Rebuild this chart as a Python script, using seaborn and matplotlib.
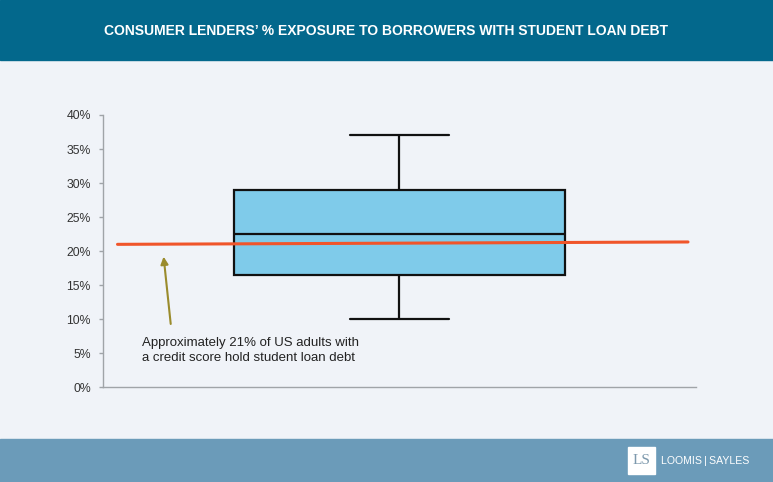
import numpy as np
import pandas as pd
import matplotlib
matplotlib.use('Agg')
import matplotlib.pyplot as plt
from matplotlib.patches import Rectangle
import seaborn as sns

# exposure values (%) giving the box stats: min, q1, median, q3, max
exposure = [10.0, 16.5, 22.5, 29.0, 37.0]
# reference line: ~21% of US adults with a credit score hold student loan debt
ref_x = [-0.476, 0.487]
ref_y = [21.0, 21.35]
y_ticks = [0, 5, 10, 15, 20, 25, 30, 35, 40]
y_labels = [f'{v}%' for v in y_ticks]

title = 'CONSUMER LENDERS\u2019 % EXPOSURE TO BORROWERS WITH STUDENT LOAN DEBT'
note = 'Approximately 21% of US adults with\na credit score hold student loan debt'

bg = '#f0f3f8'
header = '#03688c'
footer = '#6b9bb9'

sns.set_theme(style='white')
plt.rcParams['font.family'] = ['Liberation Sans', 'DejaVu Sans']

fig = plt.figure(figsize=(7.73, 4.82), dpi=100, facecolor=bg)
H = 482.0
W = 773.0

# header / footer bands
fig.patches.append(Rectangle((0, 1 - 60 / H), 1, 60 / H, transform=fig.transFigure,
                             color=header, zorder=0))
fig.patches.append(Rectangle((0, 0), 1, 43 / H, transform=fig.transFigure,
                             color=footer, zorder=0))
fig.text(0.499, 1 - 31 / H, title, color='white', fontsize=10, fontweight='bold',
         ha='center', va='center')

# logo
fig.patches.append(Rectangle((628 / W, 8 / H), 27 / W, 27 / H, transform=fig.transFigure,
                             color='white', zorder=1))
fig.text(641.5 / W, 21.5 / H, 'LS', color='#7d99ad', fontsize=11, ha='center', va='center',
         family=['Liberation Serif', 'DejaVu Serif'], zorder=2)
fig.text(661 / W, 21 / H, 'LOOMIS\u2009|\u2009SAYLES', color='white', fontsize=7.6,
         ha='left', va='center')

ax = fig.add_axes([103.3 / W, 94.7 / H, 592.4 / W, 272.3 / H])
ax.set_facecolor(bg)

df = pd.DataFrame({'exposure': exposure})
sns.boxplot(data=df, y='exposure', ax=ax, width=0.5594, color='#7fcbea', saturation=1,
            linecolor='#111111', linewidth=1.6, capwidths=0.1676, whis=1.5, showfliers=False)

sns.lineplot(x=ref_x, y=ref_y, ax=ax, color='#f0552a', linewidth=2.2, zorder=5)

ax.annotate('', xy=(-0.3987, 19.6), xytext=(-0.3857, 8.9),
            arrowprops=dict(arrowstyle='-|>', color='#9a8b2c', lw=1.5, mutation_scale=11))
ax.text(-0.434, 5.4, note, fontsize=9.5, color='#222222', ha='left', va='center',
        linespacing=1.4)

ax.set_xlim(-0.5, 0.5)
ax.set_ylim(0, 40)
ax.set_yticks(y_ticks)
ax.set_yticklabels(y_labels)
ax.set_xticks([])
ax.set_xlabel('')
ax.set_ylabel('')
ax.tick_params(axis='y', left=True, length=3, width=1, color='#a0a4a8', pad=6,
               labelsize=8.8, labelcolor='#333333')
for s in ['top', 'right']:
    ax.spines[s].set_visible(False)
for s in ['left', 'bottom']:
    ax.spines[s].set_color('#a0a4a8')
    ax.spines[s].set_linewidth(1.0)

fig.savefig('out.png', dpi=100, facecolor=bg)
